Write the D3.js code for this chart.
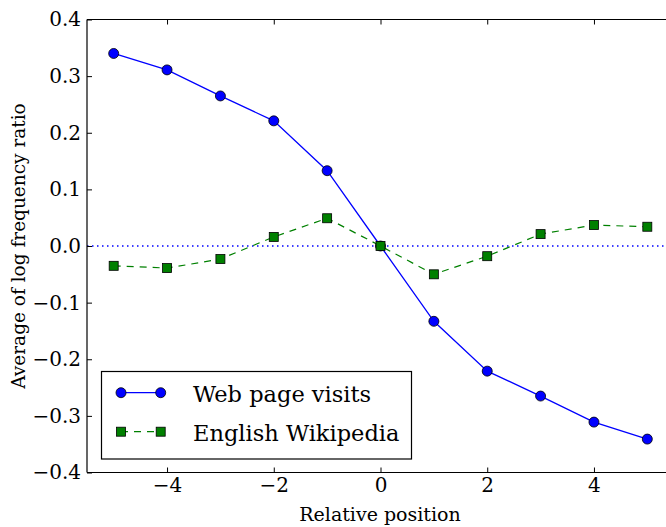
<!DOCTYPE html>
<html>
<head>
<meta charset="utf-8">
<script src="https://cdn.jsdelivr.net/npm/d3@7"></script>
<style>
  html, body { margin: 0; padding: 0; background: #fff; }
  svg { display: block; }
</style>
</head>
<body>
<svg id="chart" width="666" height="527"></svg>
<script>
// Relative positions along the x axis
const positions = [-5, -4, -3, -2, -1, 0, 1, 2, 3, 4, 5];
// Average log frequency ratio per source
const webVisits = [0.340, 0.311, 0.265, 0.221, 0.133, 0.0, -0.133, -0.221, -0.265, -0.311, -0.341];
const enWiki = [-0.035, -0.039, -0.023, 0.016, 0.049, 0.0, -0.050, -0.018, 0.021, 0.037, 0.034];
const seriesNames = ["Web page visits", "English Wikipedia"];
const xTicks = [-4, -2, 0, 2, 4];
const yTicks = [-0.4, -0.3, -0.2, -0.1, 0.0, 0.1, 0.2, 0.3, 0.4];

const FONT = "DejaVu Serif";

const svg = d3.select("#chart");
const plotL = 87, plotR = 674, plotT = 19.5, plotB = 472.5;

const x = d3.scaleLinear().domain([-5.5, 5.5]).range([plotL, plotR]);
const y = d3.scaleLinear().domain([-0.4, 0.4]).range([plotB, plotT]);

const fmtMinus = s => s.replace("-", "\u2212");

// zero reference line
svg.append("line")
  .attr("x1", plotL).attr("x2", plotR)
  .attr("y1", y(0)).attr("y2", y(0))
  .attr("stroke", "#0000ff").attr("stroke-width", 1.5)
  .attr("stroke-dasharray", "1.5,3.5");

// axes with inward ticks
const xAxisB = d3.axisBottom(x).tickValues(xTicks).tickSize(-5).tickPadding(5)
  .tickFormat(d => fmtMinus(d3.format("d")(d)));
const xAxisT = d3.axisTop(x).tickValues(xTicks).tickSize(-5).tickFormat("");
const yAxisL = d3.axisLeft(y).tickValues(yTicks).tickSize(-5).tickPadding(6)
  .tickFormat(d => fmtMinus(d3.format(".1f")(d)));
const yAxisR = d3.axisRight(y).tickValues(yTicks).tickSize(-5).tickFormat("");

function styleAxis(g) {
  g.attr("font-family", FONT);
  g.select(".domain").attr("stroke", "#000").attr("stroke-width", 1.2);
  g.selectAll(".tick line").attr("stroke", "#000").attr("stroke-width", 1);
  g.selectAll(".tick text").attr("font-family", FONT).attr("font-size", 20).attr("fill", "#000");
}

svg.append("g").attr("transform", `translate(0,${plotB})`).call(xAxisB)
  .call(g => g.select(".domain").attr("d", `M${plotL},0H${plotR}`)).call(styleAxis);
svg.append("g").attr("transform", `translate(0,${plotT})`).call(xAxisT)
  .call(g => g.select(".domain").attr("d", `M${plotL},0H${plotR}`)).call(styleAxis);
svg.append("g").attr("transform", `translate(${plotL},0)`).call(yAxisL)
  .call(g => g.select(".domain").attr("d", `M0,${plotT}V${plotB}`)).call(styleAxis);
svg.append("g").attr("transform", `translate(${plotR},0)`).call(yAxisR)
  .call(g => g.select(".domain").attr("d", `M0,${plotT}V${plotB}`)).call(styleAxis);

const line = d3.line().x(d => x(d[0])).y(d => y(d[1]));
const webData = positions.map((p, i) => [p, webVisits[i]]);
const wikiData = positions.map((p, i) => [p, enWiki[i]]);

svg.append("path").datum(wikiData).attr("d", line)
  .attr("fill", "none").attr("stroke", "#008000").attr("stroke-width", 1.2)
  .attr("stroke-dasharray", "7,6");
svg.append("path").datum(webData).attr("d", line)
  .attr("fill", "none").attr("stroke", "#0000ff").attr("stroke-width", 1.3);

svg.selectAll(".web").data(webData).enter().append("circle")
  .attr("cx", d => x(d[0])).attr("cy", d => y(d[1])).attr("r", 5)
  .attr("fill", "#0000ff").attr("stroke", "#000").attr("stroke-width", 0.8);
svg.selectAll(".wiki").data(wikiData).enter().append("rect")
  .attr("x", d => x(d[0]) - 4.5).attr("y", d => y(d[1]) - 4.5)
  .attr("width", 9).attr("height", 9)
  .attr("fill", "#008000").attr("stroke", "#000").attr("stroke-width", 0.8);

// axis titles
svg.append("text").attr("x", 380).attr("y", 521)
  .attr("font-family", FONT).attr("text-anchor", "middle").attr("font-size", 19)
  .text("Relative position");
svg.append("text").attr("transform", `translate(25,${(plotT + plotB) / 2}) rotate(-90)`)
  .attr("font-family", FONT).attr("text-anchor", "middle").attr("font-size", 18.5)
  .text("Average of log frequency ratio");

// legend
const lg = svg.append("g");
lg.append("rect").attr("x", 101.5).attr("y", 371.5).attr("width", 310).attr("height", 87.5)
  .attr("fill", "#fff").attr("stroke", "#000").attr("stroke-width", 1.2);
const rows = [392.7, 431.7];
lg.append("line").attr("x1", 121).attr("x2", 160.7).attr("y1", rows[0]).attr("y2", rows[0])
  .attr("stroke", "#0000ff").attr("stroke-width", 1.3);
lg.append("line").attr("x1", 121).attr("x2", 160.7).attr("y1", rows[1]).attr("y2", rows[1])
  .attr("stroke", "#008000").attr("stroke-width", 1.2).attr("stroke-dasharray", "7,6");
[121, 160.7].forEach(cx => {
  lg.append("circle").attr("cx", cx).attr("cy", rows[0]).attr("r", 5)
    .attr("fill", "#0000ff").attr("stroke", "#000").attr("stroke-width", 0.8);
  lg.append("rect").attr("x", cx - 4.5).attr("y", rows[1] - 4.5).attr("width", 9).attr("height", 9)
    .attr("fill", "#008000").attr("stroke", "#000").attr("stroke-width", 0.8);
});
seriesNames.forEach((n, i) => {
  lg.append("text").attr("x", 193).attr("y", rows[i] + 9)
    .attr("font-family", FONT).attr("font-size", 22.5).text(n);
});
</script>
</body>
</html>
